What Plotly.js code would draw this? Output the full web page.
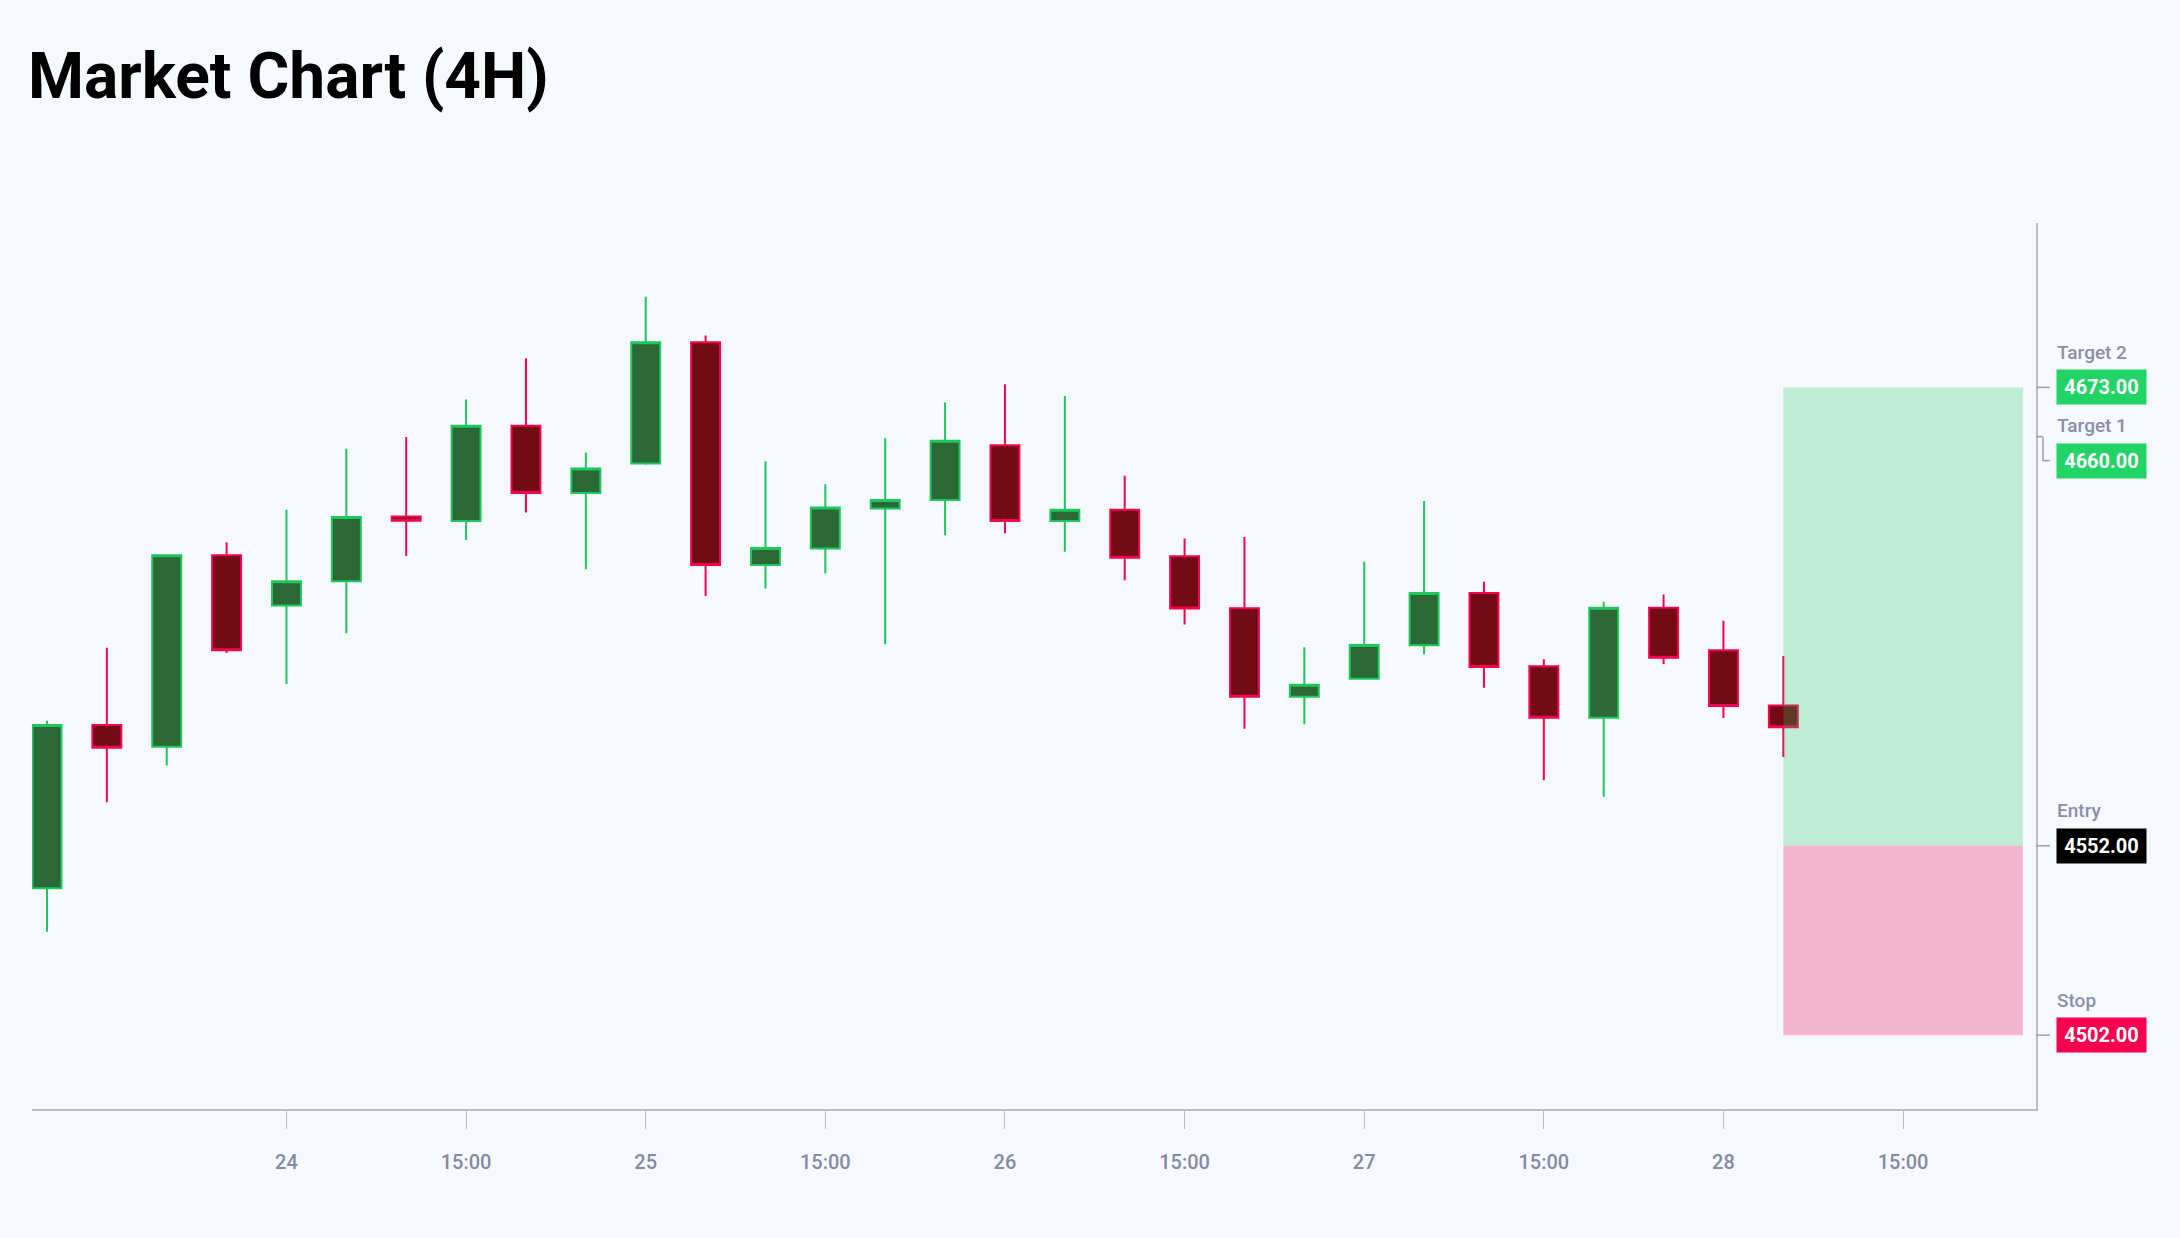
<!DOCTYPE html>
<html>
<head>
<meta charset="utf-8">
<script src="https://cdn.plot.ly/plotly-3.0.1.min.js"></script>
<style>
  html, body { margin: 0; padding: 0; background: #f5f8fc; }
  #chart { width: 2180px; height: 1238px; }
</style>
</head>
<body>
<div id="chart"></div>
<script>
// ---- data ----
const barIndex = [0,1,2,3,4,5,6,7,8,9,10,11,12,13,14,15,16,17,18,19,20,21,22,23,24,25,26,27,28,29];
const opens  = [4540.8, 4583.9, 4578.1, 4628.7, 4615.4, 4621.8, 4638.9, 4637.7, 4662.9, 4645.1,
                4652.9, 4684.9, 4626.1, 4630.5, 4641.0, 4643.3, 4657.7, 4637.7, 4640.7, 4628.4,
                4614.7, 4591.3, 4596.1, 4604.9, 4618.7, 4599.4, 4585.8, 4614.8, 4603.6, 4589.0];
const highs  = [4585.0, 4604.3, 4628.7, 4632.1, 4640.7, 4656.8, 4659.9, 4669.8, 4680.7, 4655.8,
                4696.9, 4686.7, 4653.5, 4647.4, 4659.6, 4669.0, 4673.8, 4670.7, 4649.7, 4633.1,
                4633.5, 4604.4, 4627.0, 4643.0, 4621.7, 4601.2, 4616.4, 4618.3, 4611.4, 4602.1];
const lows   = [4529.3, 4563.5, 4573.2, 4602.9, 4594.7, 4608.1, 4628.5, 4632.7, 4640.0, 4625.0,
                4652.6, 4617.9, 4619.9, 4623.9, 4605.2, 4634.0, 4634.5, 4629.6, 4622.1, 4610.4,
                4582.9, 4584.1, 4595.8, 4602.6, 4593.7, 4569.3, 4564.9, 4600.0, 4585.7, 4575.4];
const closes = [4583.9, 4577.9, 4628.7, 4603.6, 4621.8, 4638.8, 4637.8, 4662.9, 4645.1, 4651.6,
                4684.9, 4626.1, 4630.6, 4641.3, 4643.3, 4658.9, 4637.7, 4640.7, 4628.0, 4614.6,
                4591.3, 4594.5, 4605.0, 4618.7, 4599.2, 4585.8, 4614.8, 4601.6, 4588.9, 4583.3];

const tickIdx  = [4, 7, 10, 13, 16, 19, 22, 25, 28, 31];
const tickText = ['24', '15:00', '25', '15:00', '26', '15:00', '27', '15:00', '28', '15:00'];

const levelNames  = ['Target 2', 'Target 1', 'Entry', 'Stop'];
const levelValues = [4673, 4660, 4552, 4502];
const zoneBars = 4; // projection length in bars

// ---- styles ----
const BG = '#f5f8fc';
const labelColors = ['#22d366', '#22d366', '#000000', '#f7004f'];
const labelShift = [0, -24, 0, 0];
const AXIS = '#b9bdc6';
const TXT = '#858aa4';

const trace = {
  type: 'candlestick',
  x: barIndex, open: opens, high: highs, low: lows, close: closes,
  increasing: { line: { color: '#1ec65c', width: 2 }, fillcolor: '#2a6836' },
  decreasing: { line: { color: '#f5054f', width: 2 }, fillcolor: '#720b13' },
  whiskerwidth: 0,
  showlegend: false,
  hoverinfo: 'skip'
};

const target2 = levelValues[0], entry = levelValues[2], stop = levelValues[3];
const lastIdx = barIndex[barIndex.length - 1];

const shapes = [
  { type: 'rect', xref: 'x', yref: 'y', x0: lastIdx, x1: lastIdx + zoneBars, y0: entry, y1: target2,
    fillcolor: 'rgba(34,197,94,0.25)', line: { width: 0 }, layer: 'above' },
  { type: 'rect', xref: 'x', yref: 'y', x0: lastIdx, x1: lastIdx + zoneBars, y0: stop, y1: entry,
    fillcolor: 'rgba(242,0,80,0.27)', line: { width: 0 }, layer: 'above' }
];
const annotations = [];

levelValues.forEach((v, i) => {
  const s = labelShift[i];
  if (s === 0) {
    shapes.push({ type: 'line', xref: 'paper', xsizemode: 'pixel', xanchor: 1, x0: 0, x1: 14,
      yref: 'y', y0: v, y1: v, line: { color: '#9a9eb4', width: 1.5 } });
  } else {
    shapes.push({ type: 'line', xref: 'paper', xsizemode: 'pixel', xanchor: 1, x0: 0, x1: 7,
      yref: 'y', y0: v, y1: v, line: { color: '#9a9eb4', width: 1.5 } });
    shapes.push({ type: 'line', xref: 'paper', xsizemode: 'pixel', xanchor: 1, x0: 7, x1: 7,
      yref: 'y', ysizemode: 'pixel', yanchor: v, y0: 0, y1: s, line: { color: '#9a9eb4', width: 1.5 } });
    shapes.push({ type: 'line', xref: 'paper', xsizemode: 'pixel', xanchor: 1, x0: 7, x1: 14,
      yref: 'y', ysizemode: 'pixel', yanchor: v, y0: s, y1: s, line: { color: '#9a9eb4', width: 1.5 } });
  }
  annotations.push({
    xref: 'paper', x: 1, xanchor: 'left', xshift: 20,
    yref: 'y', y: v, yanchor: 'middle', yshift: s,
    text: v.toFixed(2), showarrow: false,
    width: 89, height: 34, borderpad: 0, align: 'center', valign: 'middle',
    bgcolor: labelColors[i],
    font: { family: 'Roboto', size: 20, color: '#ffffff', weight: 'bold' }
  });
  annotations.push({
    xref: 'paper', x: 1, xanchor: 'left', xshift: 19,
    yref: 'y', y: v, yanchor: 'middle', yshift: s + 35,
    text: levelNames[i], showarrow: false,
    font: { family: 'Roboto', size: 19, color: '#8a8ea8', weight: 500 }
  });
});

const layout = {
  width: 2180, height: 1238,
  paper_bgcolor: BG, plot_bgcolor: BG,
  margin: { l: 32, r: 144, t: 223, b: 129 },
  title: {
    text: 'Market Chart (4H)',
    font: { family: 'Roboto', size: 64, color: '#000000', weight: 'bold' },
    xref: 'container', x: 28 / 2180, xanchor: 'left',
    yref: 'container', y: 1 - 76 / 1238, yanchor: 'middle', pad: { l: 0, t: 0, b: 0, r: 0 }
  },
  boxgap: 0.31,
  xaxis: {
    type: 'linear', range: [-0.25, 33.22],
    rangeslider: { visible: false },
    showgrid: false, zeroline: false,
    showline: true, linecolor: AXIS, linewidth: 2,
    ticks: 'outside', ticklen: 18, tickcolor: AXIS, tickwidth: 1,
    tickmode: 'array', tickvals: tickIdx, ticktext: tickText,
    ticklabelstandoff: 16,
    tickfont: { family: 'Roboto', size: 20, color: TXT, weight: 500 }
  },
  yaxis: {
    side: 'right', range: [4482.5, 4716.4],
    showgrid: false, zeroline: false,
    showline: true, linecolor: AXIS, linewidth: 2,
    ticks: '', showticklabels: false
  },
  shapes: shapes,
  annotations: annotations,
  showlegend: false,
  hovermode: false
};

Plotly.newPlot('chart', [trace], layout, { displayModeBar: false, staticPlot: true });
</script>
</body>
</html>
